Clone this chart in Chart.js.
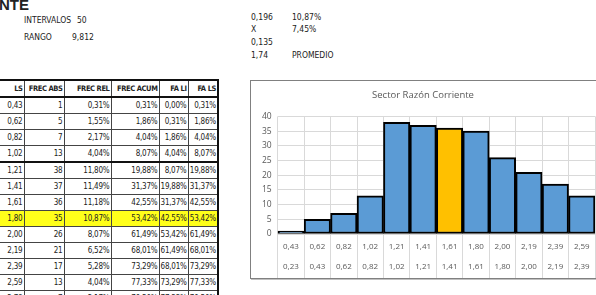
<!DOCTYPE html>
<html>
<head>
<meta charset="utf-8">
<script src="https://cdn.jsdelivr.net/npm/chart.js@4/dist/chart.umd.min.js"></script>
<style>
    html, body { margin: 0; padding: 0; background: #fff; }
    body { width: 596px; height: 295px; overflow: hidden; position: relative;
           font-family: "Liberation Sans Narrow", "DejaVu Sans Condensed", sans-serif; color: #222; }
    .txt { position: absolute; font-size: 8.5px; white-space: nowrap; }
    .titulo { position: absolute; left: -1px; top: -4px; font: bold 15px "Liberation Sans", sans-serif; }
    table { position: absolute; left: -20px; top: 79px; width: 237px; table-layout: fixed;
            border-collapse: collapse; font-size: 8px; border: 2px solid #111; }
    td, th { border: 1px solid #444; padding: 0 1px; height: 15px; line-height: 15px;
             text-align: right; white-space: nowrap; overflow: hidden; letter-spacing: -0.2px; }
    th { font-size: 7.5px; letter-spacing: -0.4px; }
    tr.cab th { border-bottom: 2px solid #111; }
    tr.grueso td { border-top: 2px solid #111; }
    tr.marca td { background: #ffff1a; }
    #caja { position: absolute; left: 250px; top: 80px; width: 356px; height: 199px;
            border: 1px solid #808080; box-shadow: 1px 1px 0 #c0c0c0; box-sizing: border-box; }
    #caja canvas { display: block; }
</style>
</head>
<body>
<div class="titulo">NTE</div>
<div class="txt" style="left:24px;top:15px">INTERVALOS</div>
<div class="txt" style="left:77px;top:15px">50</div>
<div class="txt" style="left:24px;top:32px">RANGO</div>
<div class="txt" style="left:72px;top:32px">9,812</div>
<div class="txt" style="left:251px;top:12px">0,196</div>
<div class="txt" style="left:292px;top:12px">10,87%</div>
<div class="txt" style="left:251px;top:24px">X</div>
<div class="txt" style="left:292px;top:24px">7,45%</div>
<div class="txt" style="left:251px;top:37px">0,135</div>
<div class="txt" style="left:251px;top:50px">1,74</div>
<div class="txt" style="left:292px;top:50px">PROMEDIO</div>

<table id="tabla"></table>

<div id="caja"><canvas id="histograma" width="354" height="197"></canvas></div>

<script>
// Tabla de frecuencias
const ls = ['0,43', '0,62', '0,82', '1,02', '1,21', '1,41', '1,61', '1,80', '2,00', '2,19', '2,39', '2,59', '2,78'];
const frecAbs = [1, 5, 7, 13, 38, 37, 36, 35, 26, 21, 17, 13, 7];
const frecRel = ['0,31%', '1,55%', '2,17%', '4,04%', '11,80%', '11,49%', '11,18%', '10,87%', '8,07%', '6,52%', '5,28%', '4,04%', '2,17%'];
const frecAcum = ['0,31%', '1,86%', '4,04%', '8,07%', '19,88%', '31,37%', '42,55%', '53,42%', '61,49%', '68,01%', '73,29%', '77,33%', '79,50%'];
const faLi = ['0,00%', '0,31%', '1,86%', '4,04%', '8,07%', '19,88%', '31,37%', '42,55%', '53,42%', '61,49%', '68,01%', '73,29%', '77,33%'];
const faLs = ['0,31%', '1,86%', '4,04%', '8,07%', '19,88%', '31,37%', '42,55%', '53,42%', '61,49%', '68,01%', '73,29%', '77,33%', '79,50%'];
const filaMarcada = 7;

// Histograma
const limSup = ['0,43', '0,62', '0,82', '1,02', '1,21', '1,41', '1,61', '1,80', '2,00', '2,19', '2,39', '2,59'];
const limInf = ['0,23', '0,43', '0,62', '0,82', '1,02', '1,21', '1,41', '1,61', '1,80', '2,00', '2,19', '2,39'];
const frecuencias = [1, 5, 7, 13, 38, 37, 36, 35, 26, 21, 17, 13];
const barraResaltada = 6;
const yTicks = [0, 5, 10, 15, 20, 25, 30, 35, 40];

document.addEventListener("DOMContentLoaded", function() {
    buildTable();
    buildChart();
});

function buildTable() {
    const tabla = document.getElementById("tabla");
    const widths = [43, 40, 47, 48, 29, 30];
    let html = '<colgroup>' + widths.map(w => `<col style="width:${w}px">`).join('') + '</colgroup>';
    html += '<tr class="cab">';
    ['LS', 'FREC ABS', 'FREC REL', 'FREC ACUM', 'FA LI', 'FA LS'].forEach(h => {
        html += `<th>${h}</th>`;
    });
    html += '</tr>';
    ls.forEach((v, i) => {
        let cls = '';
        if (i === 4) cls = 'grueso';
        if (i === filaMarcada) cls = 'marca';
        html += `<tr class="${cls}"><td>${v}</td><td>${frecAbs[i]}</td><td>${frecRel[i]}</td>` +
                `<td>${frecAcum[i]}</td><td>${faLi[i]}</td><td>${faLs[i]}</td></tr>`;
    });
    tabla.innerHTML = html;
}

function buildChart() {
    const ctx = document.getElementById('histograma').getContext('2d');
    const labels = limSup.map((s, i) => [s, limInf[i]]);
    const colors = frecuencias.map((_, i) => i === barraResaltada ? '#ffc000' : '#5b9bd5');
    const gray = '#595959';
    const chartFont = "'Open Sans', sans-serif";

    new Chart(ctx, {
        type: 'bar',
        data: {
            labels: labels,
            datasets: [{
                data: frecuencias,
                backgroundColor: colors,
                borderColor: '#000',
                borderWidth: 2,
                borderSkipped: false,
                barPercentage: 1,
                categoryPercentage: 1
            }]
        },
        options: {
            responsive: false,
            animation: false,
            layout: { padding: { left: 0, right: 10, top: 0, bottom: 0 } },
            plugins: {
                legend: { display: false },
                tooltip: { enabled: false },
                title: {
                    display: true,
                    text: 'Sector Razón Corriente',
                    color: gray,
                    font: { family: chartFont, size: 9.5, weight: 'normal' },
                    padding: { top: 9, bottom: 15 }
                }
            },
            scales: {
                x: {
                    offset: true,
                    grid: { display: true, offset: true, color: '#d9d9d9', tickLength: 44, drawTicks: true },
                    border: { display: true, color: '#d9d9d9' },
                    ticks: {
                        color: gray,
                        font: { family: chartFont, size: 8, lineHeight: 2.45 },
                        padding: -41,
                        maxRotation: 0,
                        autoSkip: false
                    },
                    afterFit: scale => { scale.height = 44; }
                },
                y: {
                    min: 0,
                    max: 40,
                    afterBuildTicks: scale => { scale.ticks = yTicks.map(v => ({ value: v })); },
                    grid: { color: '#d9d9d9', drawTicks: false },
                    border: { display: false },
                    ticks: {
                        color: gray,
                        font: { family: chartFont, size: 8.5 },
                        padding: 6
                    },
                    afterFit: scale => { scale.width = 26.7; }
                }
            }
        }
    });
}
</script>
</body>
</html>
